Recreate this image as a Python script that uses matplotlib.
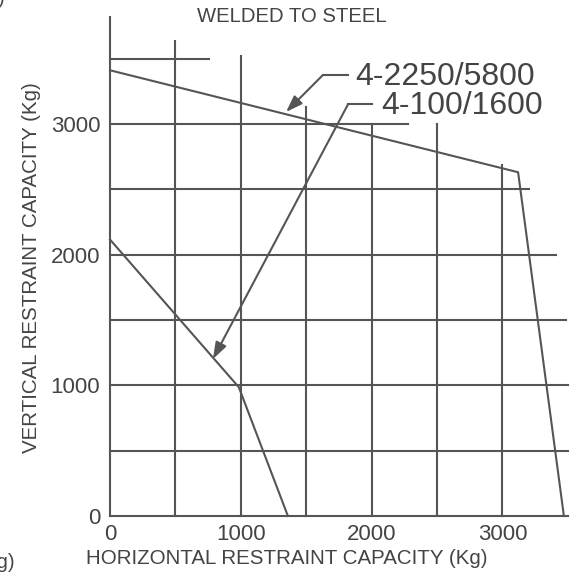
import matplotlib
matplotlib.use("Agg")
import matplotlib.pyplot as plt

plt.rcParams['font.family'] = ['Liberation Sans', 'DejaVu Sans']

# chart values
line_a_x = [0, 3120, 3470]          # 4-2250/5800
line_a_y = [3410, 2630, 0]
line_b_x = [0, 985, 1360]           # 4-100/1600
line_b_y = [2115, 985, 0]

vgrid_x = [500, 1000, 1500, 2000, 2500, 3000]
vgrid_top = [3634, 3519, 3129, 3000, 3000, 2685]
hgrid_y = [3500, 3000, 2500, 2000, 1500, 1000, 500, 0]
hgrid_end = [757, 2278, 3203, 3410, 3486, 3501, 3501, 3501]
yaxis_top = 3818

xticks = [0, 1000, 2000, 3000]
yticks = [0, 1000, 2000, 3000]

label_a = "4-2250/5800"
label_b = "4-100/1600"

GRAY = "#555555"
TXT = "#444444"
W, H = 571, 572

fig = plt.figure(figsize=(W / 100, H / 100), dpi=100)
ax = fig.add_axes([110 / W, (H - 516) / H, 457.8 / W, 496.7 / H])
ax.set_xlim(0, 3500)
ax.set_ylim(0, 3800)
for s in ax.spines.values():
    s.set_visible(False)

lw = 1.5
# axis line and grid
ax.plot([0, 0], [0, yaxis_top], color=GRAY, lw=lw, clip_on=False)
for x, top in zip(vgrid_x, vgrid_top):
    ax.plot([x, x], [0, top], color=GRAY, lw=lw, clip_on=False)
for y, end in zip(hgrid_y, hgrid_end):
    ax.plot([0, end], [y, y], color=GRAY, lw=lw, clip_on=False)

# capacity curves
ax.plot(line_a_x, line_a_y, color=GRAY, lw=lw, clip_on=False)
ax.plot(line_b_x, line_b_y, color=GRAY, lw=lw, clip_on=False)

# leaders with arrows
ax.plot([1628, 1820], [3374, 3374], color=GRAY, lw=lw)
ax.annotate("", xy=(1346, 3091), xytext=(1628, 3374),
            arrowprops=dict(arrowstyle="-|>,head_length=1.0,head_width=0.35",
                            color=GRAY, lw=lw, shrinkA=0, shrinkB=0))
ax.plot([1820, 2003], [3150, 3150], color=GRAY, lw=lw)
ax.annotate("", xy=(787, 1201), xytext=(1820, 3150),
            arrowprops=dict(arrowstyle="-|>,head_length=1.0,head_width=0.35",
                            color=GRAY, lw=lw, shrinkA=0, shrinkB=0))
ax.text(1875, 3360, label_a, fontsize=23, color=TXT, ha="left", va="center")
ax.text(2070, 3138, label_b, fontsize=23, color=TXT, ha="left", va="center")

ax.set_xticks(xticks)
ax.set_yticks(yticks)
ax.set_xticklabels([str(t) for t in xticks])
ax.set_yticklabels([str(t) for t in yticks])
ax.tick_params(length=0, labelsize=16, labelcolor=TXT)
ax.tick_params(axis="x", pad=6)
ax.tick_params(axis="y", pad=7)

fig.text(292 / W, 1 - 17 / H, "WELDED TO STEEL", fontsize=14.6, color=TXT,
         ha="center", va="center")
fig.text(287 / W, 1 - 559 / H, "HORIZONTAL RESTRAINT CAPACITY (Kg)", fontsize=14.8,
         color=TXT, ha="center", va="center")
fig.text(32 / W, 1 - 268 / H, "VERTICAL RESTRAINT CAPACITY (Kg)", fontsize=14.8,
         color=TXT, ha="center", va="center", rotation=90)
# cut-off pieces of neighbouring drawings
fig.text(15 / W, 1 - 562 / H, "(Kg)", fontsize=14.8, color=TXT, ha="right", va="center")
fig.text(-2 / W, 1 + 2 / H, ")", fontsize=14.8, color=TXT, ha="left", va="center")

fig.savefig("out.png", dpi=100)
